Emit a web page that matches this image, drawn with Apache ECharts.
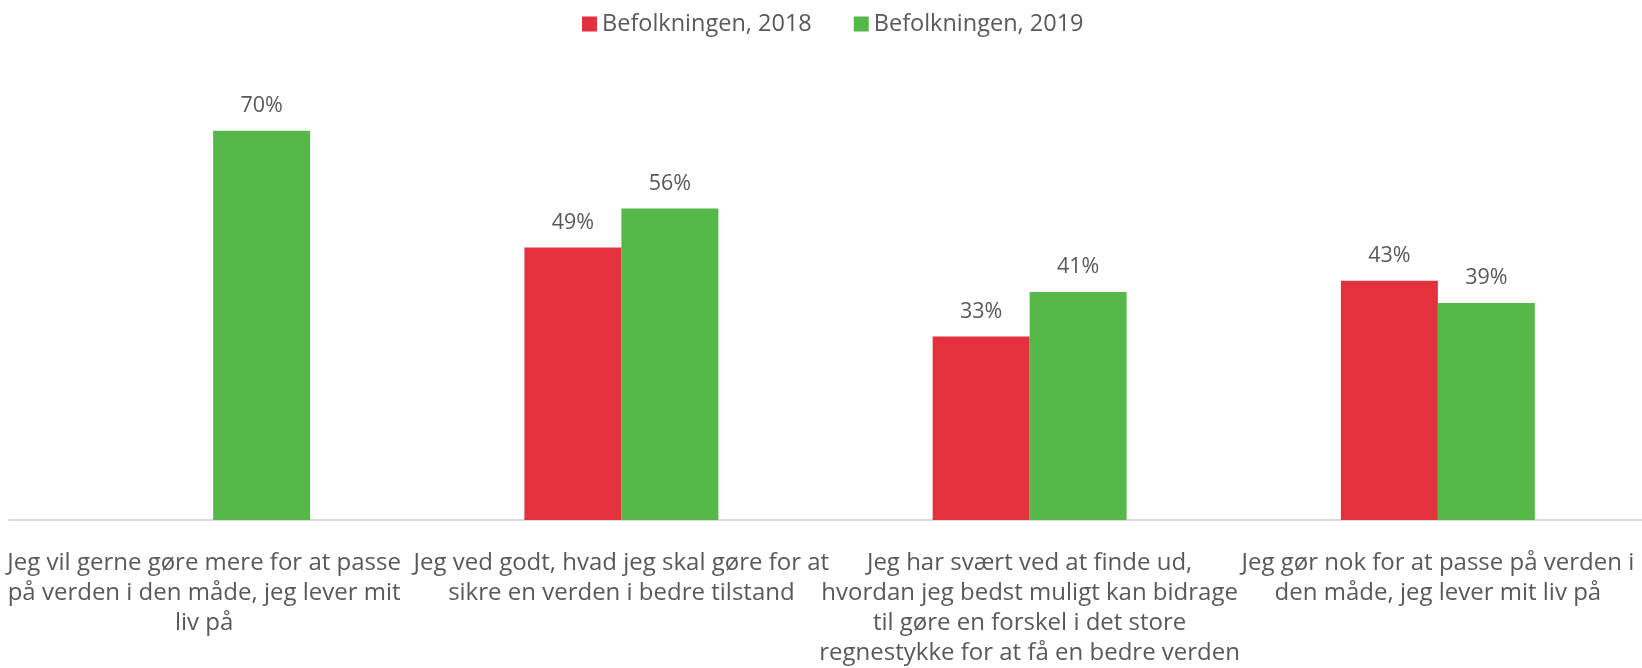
<!DOCTYPE html>
<html>
<head>
<meta charset="utf-8">
<script src="https://cdn.jsdelivr.net/npm/echarts@6/dist/echarts.min.js"></script>
<style>
  html, body { margin: 0; padding: 0; background: #fff; }
  #chart { width: 1642px; height: 668px; }
</style>
</head>
<body>
<div id="chart"></div>
<script>
var categories = [
    'Jeg vil gerne gøre mere for at passe\npå verden i den måde, jeg lever mit\nliv på',
    'Jeg ved godt, hvad jeg skal gøre for at\nsikre en verden i bedre tilstand',
    'Jeg har svært ved at finde ud,\nhvordan jeg bedst muligt kan bidrage\ntil gøre en forskel i det store\nregnestykke for at få en bedre verden',
    'Jeg gør nok for at passe på verden i\nden måde, jeg lever mit liv på'
];
var seriesNames = ['Befolkningen, 2018', 'Befolkningen, 2019'];
var values2018 = [null, 49, 33, 43];
var values2019 = [70, 56, 41, 39];

var chart = echarts.init(document.getElementById('chart'));
var textColor = '#595959';
var font = "'Open Sans', sans-serif";

function barLabel() {
    return {
        show: true,
        position: 'top',
        distance: 14,
        color: textColor,
        fontFamily: font,
        fontSize: 21.5,
        formatter: function (p) { return p.value + '%'; }
    };
}

// first label sits a little to the left, as it is pushed by the chart edge
var categoryData = categories.map(function (c, i) {
    if (i === 0) return { value: c, textStyle: { padding: [0, 18, 0, 0] } };
    return c;
});

var option = {
    animation: false,
    textStyle: { fontFamily: font },
    legend: {
        top: 7,
        left: 577,
        itemWidth: 15,
        itemHeight: 15,
        itemGap: 42,
        icon: 'rect',
        textStyle: { color: textColor, fontSize: 23.5, fontFamily: font },
        data: seriesNames
    },
    grid: { left: 9, right: 0, top: 75, bottom: 145, containLabel: false },
    xAxis: {
        type: 'category',
        data: categoryData,
        axisLine: { lineStyle: { color: '#d9d9d9', width: 2 } },
        axisTick: { show: false },
        axisLabel: {
            interval: 0,
            margin: 28,
            color: textColor,
            fontFamily: font,
            fontSize: 24,
            lineHeight: 30
        }
    },
    yAxis: {
        type: 'value',
        min: 0,
        max: 80,
        show: false,
        splitLine: { show: false }
    },
    series: [
        {
            name: seriesNames[0],
            type: 'bar',
            data: values2018,
            barWidth: 97,
            barGap: '0%',
            itemStyle: { color: '#e3323e' },
            label: barLabel()
        },
        {
            name: seriesNames[1],
            type: 'bar',
            data: values2019,
            barWidth: 97,
            barGap: '0%',
            itemStyle: { color: '#57b84a' },
            label: barLabel()
        }
    ]
};

chart.setOption(option);
</script>
</body>
</html>
